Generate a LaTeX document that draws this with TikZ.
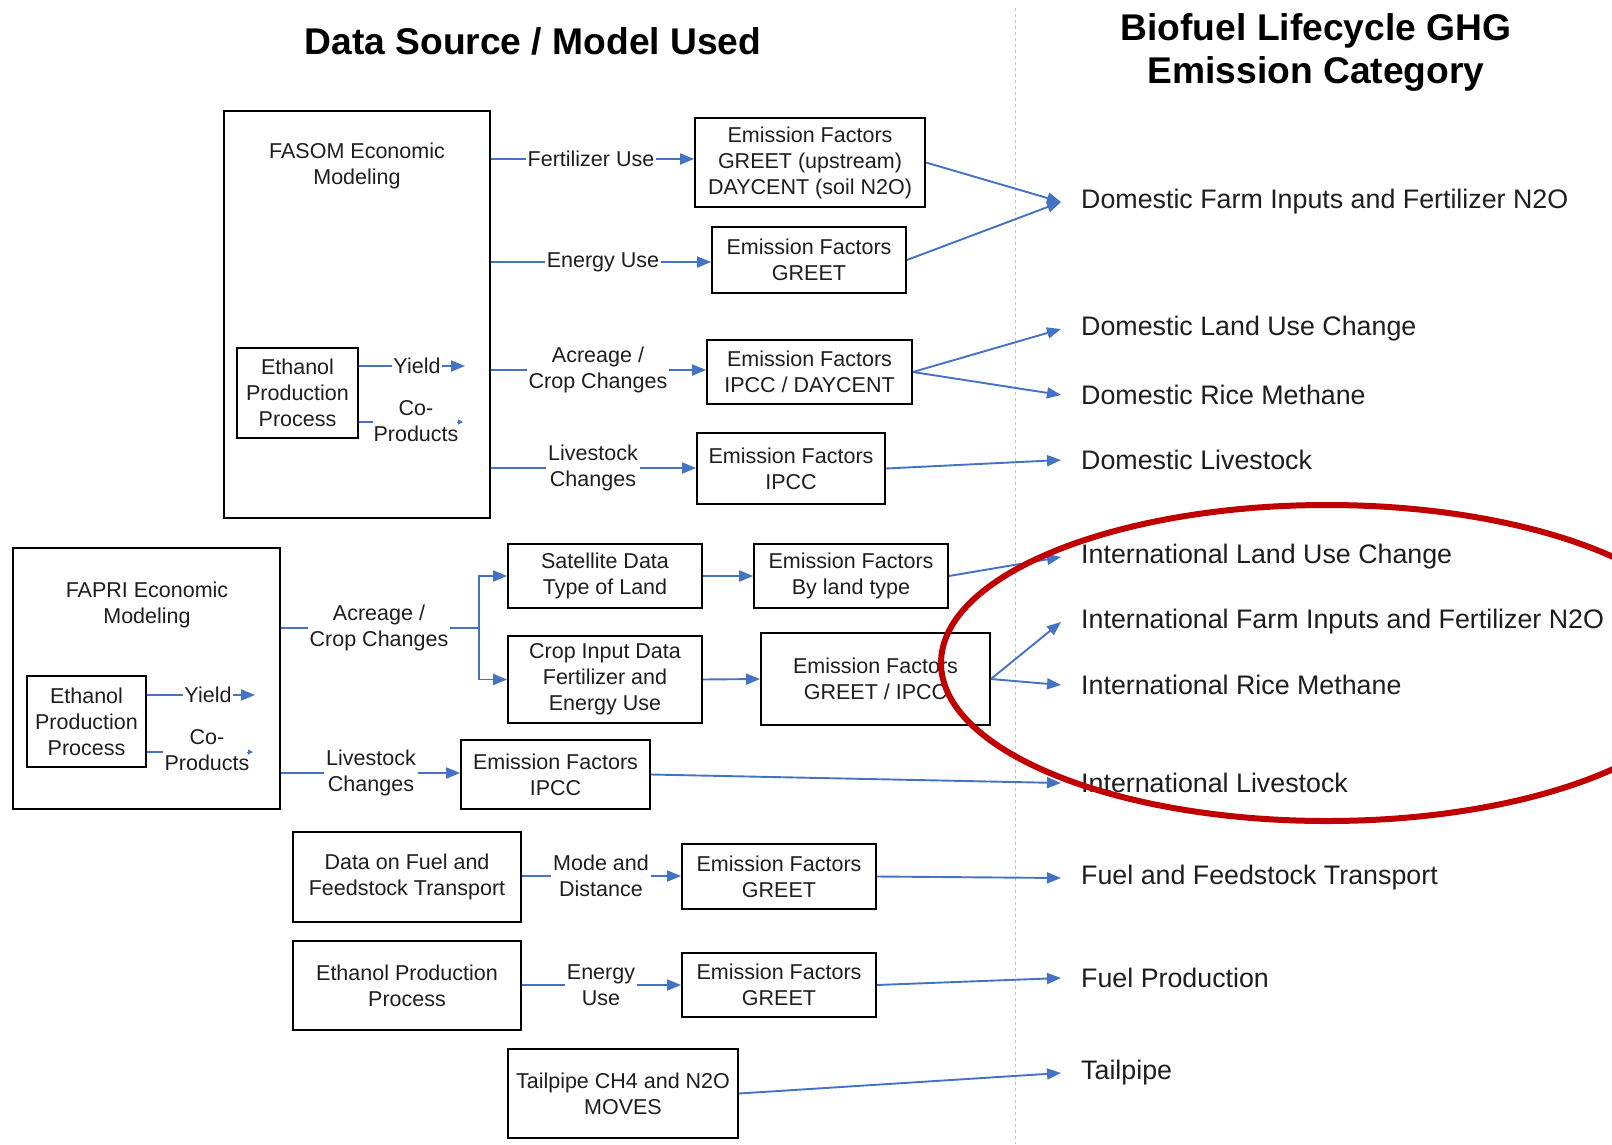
\documentclass[tikz,border=0pt]{standalone}
\usepackage{fontspec}
\setmainfont{Liberation Sans}
\usetikzlibrary{arrows.meta,calc}
\definecolor{arrowblue}{RGB}{68,114,196}
\definecolor{circred}{RGB}{192,0,0}
\definecolor{txtc}{RGB}{30,30,30}
\newcommand\myBody{\fontsize{21.5}{26}\selectfont}
\newcommand\myRight{\fontsize{26.8}{30}\selectfont}
\newcommand\myTitle{\fontsize{37.2}{45}\selectfont\bfseries}
\begin{document}
\begin{tikzpicture}[x=1pt,y=-1pt,
  box/.style={draw=black,line width=1.8pt,inner sep=0pt,align=center,font=\myBody,text=txtc},
  lbl/.style={align=center,font=\myBody,inner sep=1.5pt,text=txtc},
  cat/.style={anchor=west,font=\myRight,inner xsep=20pt,inner ysep=0pt,text=txtc},
  ln/.style={draw=arrowblue,line width=1.9pt},
  arr/.style={draw=arrowblue,line width=1.9pt,-{Triangle[length=14pt,width=11pt]}},
  ttl/.style={align=center,font=\myTitle,text=black}]
\fill[white] (0,0) rectangle (1612,1144);
\path[use as bounding box] (0,0) rectangle (1612,1144);
\clip (0,0) rectangle (1612,1144);

% separator
\draw[black!25,dashed,line width=1pt] (1015,8) -- (1015,1144);

% titles
\node[ttl] (t1) at (533,41) {Data Source / Model Used};
\node[ttl] (t2) at (1316,52) {Biofuel Lifecycle GHG\\[-2pt]Emission Category};

% FASOM block
\node[box,minimum width=266pt,minimum height=407pt] (fasom) at (357,314.5) {};
\node[lbl] (fasomt) at (357,166) {FASOM Economic\\Modeling};
\node[box,minimum width=121pt,minimum height=90pt] (eth1) at (297.5,393) {Ethanol\\Production\\Process};
\node[lbl] (yield1) at (417,366) {Yield};
\coordinate (yield1tip) at (465,366);
\node[lbl] (co1) at (416,421) {Co-\\Products};
\coordinate (co1a) at (373,422);
\coordinate (co1b) at (457,422);
\coordinate (co1t) at (463,422);

\node[box,minimum width=230pt,minimum height=89pt] (ef1) at (810,162.5) {Emission Factors\\GREET (upstream)\\DAYCENT (soil N2O)};
\node[box,minimum width=194pt,minimum height=66pt] (ef2) at (809,260) {Emission Factors\\GREET};
\node[box,minimum width=205pt,minimum height=64pt] (ef3) at (809.5,372) {Emission Factors\\IPCC / DAYCENT};
\node[box,minimum width=188pt,minimum height=71pt] (ef4) at (791,468.5) {Emission Factors\\IPCC};

\node[lbl] (fert) at (591,159) {Fertilizer Use};
\node[lbl] (energy1) at (603,262) {Energy Use};
\node[lbl] (acr1) at (598,370) {Acreage /\\Crop Changes};
\node[lbl] (live1) at (593,468) {Livestock\\Changes};

% FAPRI block
\node[box,minimum width=267pt,minimum height=261pt] (fapri) at (146.5,678.5) {};
\node[lbl] (faprit) at (147,605) {FAPRI Economic\\Modeling};
\node[box,minimum width=119pt,minimum height=91pt] (eth2) at (86.5,721.5) {Ethanol\\Production\\Process};
\node[lbl] (yield2) at (208,695) {Yield};
\coordinate (yield2tip) at (255,695);
\node[lbl] (co2) at (207,750) {Co-\\Products};
\coordinate (co2a) at (163,752);
\coordinate (co2b) at (247,752);
\coordinate (co2t) at (253,752);

\node[lbl] (acr2) at (379,628) {Acreage /\\Crop Changes};
\coordinate (br) at (479,628);
\node[box,minimum width=194pt,minimum height=64pt] (sat) at (605,576) {Satellite Data\\Type of Land};
\node[box,minimum width=194pt,minimum height=87pt] (crop) at (605,679.5) {Crop Input Data\\Fertilizer and\\Energy Use};
\node[box,minimum width=194pt,minimum height=64pt] (bylt) at (851,576) {Emission Factors\\By land type};
\node[box,minimum width=229pt,minimum height=92pt] (gi) at (875.5,679) {Emission Factors\\GREET / IPCC};
\node[lbl] (live2) at (371,773) {Livestock\\Changes};
\node[box,minimum width=189pt,minimum height=69pt] (efi) at (555.5,774.5) {Emission Factors\\IPCC};

% transport, production, tailpipe
\node[box,minimum width=228pt,minimum height=90pt] (trans) at (407,877) {Data on Fuel and\\Feedstock Transport};
\node[lbl] (mode) at (601,876) {Mode and\\Distance};
\node[box,minimum width=194pt,minimum height=65pt] (eft) at (779,876.5) {Emission Factors\\GREET};
\node[box,minimum width=228pt,minimum height=89pt] (prod) at (407,985.5) {Ethanol Production\\Process};
\node[lbl] (energy2) at (601,985) {Energy\\Use};
\node[box,minimum width=194pt,minimum height=64pt] (eff) at (779,985) {Emission Factors\\GREET};
\node[box,minimum width=230pt,minimum height=89pt] (tail) at (623,1093.5) {Tailpipe CH4 and N2O\\MOVES};

% categories
\node[cat] (dom1) at (1061,202) {Domestic Farm Inputs and Fertilizer N2O};
\node[cat] (dom2) at (1061,329) {Domestic Land Use Change};
\node[cat] (dom3) at (1061,395) {Domestic Rice Methane};
\node[cat] (dom4) at (1061,460) {Domestic Livestock};
\node[cat] (int1) at (1061,557) {International Land Use Change};
\node[cat] (int2) at (1061,622) {International Farm Inputs and Fertilizer N2O};
\node[cat] (int3) at (1061,685) {International Rice Methane};
\node[cat] (int4) at (1061,783) {International Livestock};
\node[cat] (fuel1) at (1061,878) {Fuel and Feedstock Transport};
\node[cat] (fuel2) at (1061,978) {Fuel Production};
\node[cat] (tailc) at (1061,1073) {Tailpipe};

% FASOM connectors
\draw[ln] (eth1.east |- yield1.west) -- (yield1.west);
\draw[arr] (yield1.east) -- (yield1tip);
\draw[ln] (eth1.east |- co1a) -- (co1a);
\draw[draw=arrowblue,line width=1pt,-{Triangle[length=5pt,width=5pt]}] (co1b) -- (co1t);
\draw[ln] (fasom.east |- fert.west) -- (fert.west);
\draw[arr] (fert.east) -- (ef1.west |- fert.east);
\draw[ln] (fasom.east |- energy1.west) -- (energy1.west);
\draw[arr] (energy1.east) -- (ef2.west |- energy1.east);
\draw[ln] (fasom.east |- acr1.west) -- (acr1.west);
\draw[arr] (acr1.east) -- (ef3.west |- acr1.east);
\draw[ln] (fasom.east |- live1.west) -- (live1.west);
\draw[arr] (live1.east) -- (ef4.west |- live1.east);

% FAPRI connectors
\draw[ln] (eth2.east |- yield2.west) -- (yield2.west);
\draw[arr] (yield2.east) -- (yield2tip);
\draw[ln] (eth2.east |- co2a) -- (co2a);
\draw[draw=arrowblue,line width=1pt,-{Triangle[length=5pt,width=5pt]}] (co2b) -- (co2t);
\draw[ln] (fapri.east |- acr2.west) -- (acr2.west);
\draw[ln] (acr2.east) -- (br);
\draw[arr] (br) |- (sat.west);
\draw[arr] (br) |- (crop.west);
\draw[arr] (sat.east) -- (bylt.west);
\draw[arr] (crop.east) -- (gi.west);
\draw[ln] (fapri.east |- live2.west) -- (live2.west);
\draw[arr] (live2.east) -- (efi.west |- live2.east);

% lower connectors
\draw[ln] (trans.east |- mode.west) -- (mode.west);
\draw[arr] (mode.east) -- (eft.west |- mode.east);
\draw[ln] (prod.east |- energy2.west) -- (energy2.west);
\draw[arr] (energy2.east) -- (eff.west |- energy2.east);

% to categories
\draw[arr] (ef1.east) -- (dom1.west);
\draw[arr] (ef2.east) -- (dom1.west);
\draw[arr] (ef3.east) -- (dom2.west);
\draw[arr] (ef3.east) -- (dom3.west);
\draw[arr] (ef4.east) -- (dom4.west);
\draw[arr] (bylt.east) -- (int1.west);
\draw[arr] (gi.east) -- (int2.west);
\draw[arr] (gi.east) -- (int3.west);
\draw[arr] (efi.east) -- (int4.west);
\draw[arr] (eft.east) -- (fuel1.west);
\draw[arr] (eff.east) -- (fuel2.west);
\draw[arr] (tail.east) -- (tailc.west);

% highlight ellipse
\draw[circred,line width=6pt] (1327,663) ellipse [x radius=386pt, y radius=158pt];
\end{tikzpicture}
\end{document}
